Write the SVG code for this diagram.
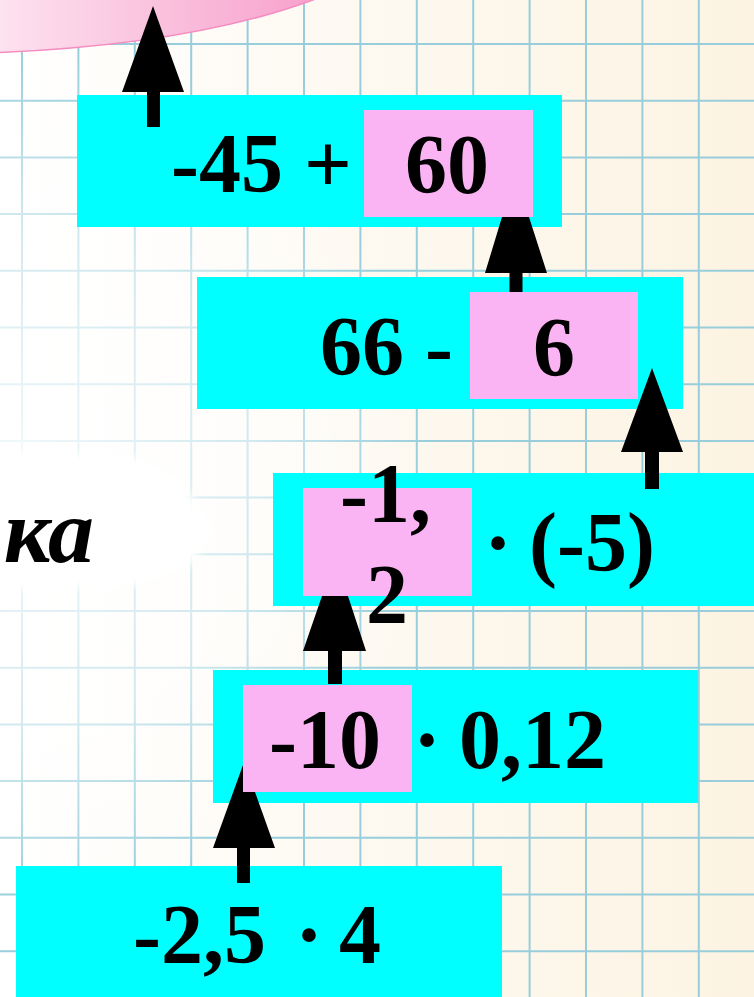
<svg xmlns="http://www.w3.org/2000/svg" width="754" height="997" viewBox="0 0 754 997">
<defs>
<linearGradient id="bg" x1="0" y1="0" x2="1" y2="0">
<stop offset="0" stop-color="#ffffff"/>
<stop offset="1" stop-color="#fcf3e2"/>
</linearGradient>
<radialGradient id="fade" cx="0" cy="480" r="430" gradientUnits="userSpaceOnUse">
<stop offset="0" stop-color="#ffffff" stop-opacity="0.9"/>
<stop offset="0.6" stop-color="#ffffff" stop-opacity="0.55"/>
<stop offset="1" stop-color="#ffffff" stop-opacity="0"/>
</radialGradient>
<linearGradient id="blob" x1="0" y1="0" x2="1" y2="0">
<stop offset="0" stop-color="#fde4f0"/>
<stop offset="1" stop-color="#f79fcb"/>
</linearGradient>
<filter id="soft" x="-20%" y="-20%" width="140%" height="140%">
<feGaussianBlur stdDeviation="4"/>
</filter>
<style>
.grid{fill:none;stroke:#98cedc;stroke-width:2}
.cyan{fill:#00ffff}
.pink{fill:#fab4f4}
.t{font-family:"Liberation Serif","Times New Roman",serif;font-weight:bold;font-size:84px;fill:#000}
.arrow{fill:#000}
</style>
</defs>
<rect width="754" height="997" fill="url(#bg)"/>
<path class="grid" d="M22,0V997M78.4,0V997M134.8,0V997M191.2,0V997M247.6,0V997M304,0V997M360.4,0V997M416.8,0V997M473.2,0V997M529.6,0V997M586,0V997M642.4,0V997M698.8,0V997M0,44H754M0,100.7H754M0,157.4H754M0,214.1H754M0,270.8H754M0,327.5H754M0,384.2H754M0,440.9H754M0,497.6H754M0,554.3H754M0,611H754M0,667.7H754M0,724.4H754M0,781.1H754M0,837.8H754M0,894.5H754M0,951.2H754"/>
<rect width="754" height="997" fill="url(#fade)"/>
<path d="M-10,-5 L-10,53 Q200,45 326,-5 Z" fill="url(#blob)" stroke="#f48cc0" stroke-width="1.5"/>
<path d="M-5,452 L130,455 L180,480 L215,530 L190,565 L140,585 L-5,590 Z" fill="#ffffff" filter="url(#soft)"/>
<text x="94" y="562" font-family="'Liberation Serif','Times New Roman',serif" font-weight="bold" font-style="italic" font-size="92" text-anchor="end" fill="#000">ка</text>

<g id="node1">
<rect class="cyan" x="77" y="95" width="485" height="132"/>
<rect class="pink" x="364" y="110" width="169" height="107"/>
<text class="t" x="171" y="192">-45 +</text>
<text class="t" x="405" y="193">60</text>
</g>
<g id="node2">
<rect class="cyan" x="197" y="277" width="486" height="132"/>
<rect class="pink" x="470" y="292" width="168" height="107"/>
<text class="t" x="320" y="375">66 -</text>
<text class="t" x="533" y="376">6</text>
</g>
<g id="node3">
<rect class="cyan" x="273" y="473" width="485" height="133"/>
<rect class="pink" x="303" y="488" width="169" height="108"/>
<text class="t" x="340" y="522">-1,</text>
<text class="t" x="366" y="623">2</text>
<text class="t" x="484" y="571">·</text>
<text class="t" x="529" y="571">(-5)</text>
</g>
<g id="node4">
<rect class="cyan" x="213" y="670" width="485" height="133"/>
<rect class="pink" x="243" y="685" width="169" height="107"/>
<text class="t" x="269" y="768">-10</text>
<text class="t" x="413" y="768">·</text>
<text class="t" x="459" y="768">0,12</text>
</g>
<g id="node5">
<rect class="cyan" x="16" y="866" width="486" height="135"/>
<text class="t" x="133" y="963">-2,5</text>
<text class="t" x="295" y="963">·</text>
<text class="t" x="339" y="963">4</text>
</g>

<g id="connectors">
<path class="arrow" d="M153,6 L184,92 L160,92 L160,127 L147,127 L147,92 L122,92 Z"/>
<path class="arrow" d="M502,217 L529,217 L547,273 L522.5,273 L522.5,292 L509.5,292 L509.5,273 L485,273 Z"/>
<path class="arrow" d="M652,368 L683,452 L659,452 L659,489 L645,489 L645,452 L621,452 Z"/>
<path class="arrow" d="M322,596 L348,596 L366,651 L342,651 L342,684 L328,684 L328,651 L303,651 Z"/>
<path class="arrow" d="M243,765 L243,792 L255,792 L275,848 L250,848 L250,883 L237,883 L237,848 L213,848 Z"/>
</g>
</svg>
